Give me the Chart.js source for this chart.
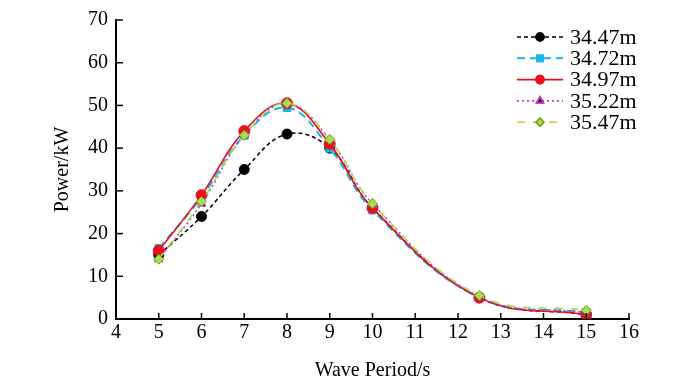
<!DOCTYPE html>
<html>
<head>
<meta charset="utf-8">
<script src="https://cdn.jsdelivr.net/npm/chart.js@4.4.1/dist/chart.umd.min.js"></script>
<style>
  html, body { margin: 0; padding: 0; background: #fff; }
  #wrap { width: 693px; height: 390px; }
</style>
</head>
<body>
<div id="wrap"><canvas id="powerchart" width="693" height="390"></canvas></div>
<script>
// wave periods (s) where power was computed
const periods = [5, 6, 7, 8, 9, 10, 12.5, 15];
// power (kW) for each water depth
const depth3447 = [15, 24, 35, 43.3, 40, 26, 5, 1];
const depth3472 = [16.5, 28.5, 43, 49.5, 40, 25.5, 5, 1.5];
const depth3497 = [16, 29, 44, 50.5, 41, 26, 5, 1];
const depth3522 = [14, 27, 43, 50.5, 42, 27, 5.2, 1.5];
const depth3547 = [14, 27.5, 43, 50.5, 42, 27, 5.5, 2];
const seriesLabels = ['34.47m', '34.72m', '34.97m', '35.22m', '35.47m'];

const FONT = 'Liberation Serif';

const toPoints = (vals) => vals.map((v, i) => ({ x: periods[i], y: v }));

const styles = [
    { color: '#000000', dash: [4, 3], width: 1.5, point: 'circle', radius: 5, fill: '#000000' },
    { color: '#18b4ea', dash: [8, 5], width: 2, point: 'rect', radius: 5.5, fill: '#18b4ea' },
    { color: '#e8101a', dash: [], width: 1.6, point: 'circle', radius: 5.5, fill: '#e8101a' },
    { color: '#c03ac8', dash: [2, 3], width: 1.6, point: 'triangle', radius: 5, fill: '#2a0a1a' },
    { color: '#a6e04a', dash: [8, 8], width: 1.6, point: 'rectRot', radius: 5, fill: '#a6e04a' },
];
const allSeries = [depth3447, depth3472, depth3497, depth3522, depth3547];

const datasets = allSeries.map((vals, i) => ({
    label: seriesLabels[i],
    data: toPoints(vals),
    order: 5 - i, // later depths drawn on top
    borderColor: styles[i].color,
    borderDash: styles[i].dash,
    borderWidth: styles[i].width,
    pointStyle: styles[i].point,
    pointRadius: styles[i].radius,
    pointBackgroundColor: styles[i].fill,
    pointBorderColor: i === 4 ? '#7a9a20' : styles[i].color,
    pointBorderWidth: 1,
    tension: 0.4,
    fill: false,
}));

// ticks drawn inward, like the original figure
const innerTicks = {
    id: 'innerTicks',
    afterDraw(chart) {
        const { ctx, chartArea, scales } = chart;
        ctx.save();
        ctx.strokeStyle = '#000';
        ctx.lineWidth = 1.5;
        scales.x.ticks.forEach((t) => {
            const px = scales.x.getPixelForValue(t.value);
            ctx.beginPath();
            ctx.moveTo(px, chartArea.bottom);
            ctx.lineTo(px, chartArea.bottom - 6);
            ctx.stroke();
        });
        scales.y.ticks.forEach((t) => {
            const py = scales.y.getPixelForValue(t.value);
            ctx.beginPath();
            ctx.moveTo(chartArea.left, py);
            ctx.lineTo(chartArea.left + 7, py);
            ctx.stroke();
        });
        ctx.restore();
    },
};

// legend with line samples, top right inside the plot
const lineLegend = {
    id: 'lineLegend',
    afterDraw(chart) {
        const { ctx } = chart;
        const x0 = 517, x1 = 563, top = 37, step = 21.3;
        ctx.save();
        seriesLabels.forEach((label, i) => {
            const ds = chart.data.datasets[i];
            const y = top + i * step;
            ctx.beginPath();
            ctx.setLineDash(ds.borderDash);
            ctx.strokeStyle = ds.borderColor;
            ctx.lineWidth = ds.borderWidth;
            ctx.moveTo(x0, y);
            ctx.lineTo(x1, y);
            ctx.stroke();
            ctx.setLineDash([]);
            Chart.helpers.drawPoint(ctx, {
                pointStyle: ds.pointStyle,
                radius: 4,
                borderWidth: ds.pointBorderWidth,
                rotation: 0,
            }, (x0 + x1) / 2, y);
            ctx.fillStyle = ds.pointBackgroundColor;
            ctx.strokeStyle = ds.pointBorderColor;
            ctx.fill();
            ctx.stroke();
            ctx.fillStyle = '#000';
            ctx.font = '22px "' + FONT + '"';
            ctx.textBaseline = 'middle';
            ctx.fillText(label, 570, y + 1);
        });
        ctx.restore();
    },
};

const ctx = document.getElementById('powerchart').getContext('2d');
new Chart(ctx, {
    type: 'line',
    data: { datasets: datasets },
    options: {
        responsive: false,
        animation: false,
        layout: { padding: { top: 9, right: 64, left: 47, bottom: 3 } },
        plugins: { legend: { display: false }, tooltip: { enabled: false } },
        scales: {
            x: {
                type: 'linear',
                min: 4,
                max: 16,
                ticks: { stepSize: 1, color: '#000', font: { family: FONT, size: 20 }, padding: 2 },
                grid: { display: false, drawTicks: false },
                border: { display: true, color: '#000', width: 2 },
                title: { display: true, text: 'Wave Period/s', color: '#000', font: { family: FONT, size: 20 }, padding: { top: 12 } },
            },
            y: {
                min: 0,
                max: 70,
                ticks: { stepSize: 10, color: '#000', font: { family: FONT, size: 20 }, padding: 8 },
                grid: { display: false, drawTicks: false },
                border: { display: true, color: '#000', width: 2 },
                title: { display: true, text: 'Power/kW', color: '#000', font: { family: FONT, size: 20 }, padding: { bottom: 5 } },
            },
        },
    },
    plugins: [innerTicks, lineLegend],
});
</script>
</body>
</html>
